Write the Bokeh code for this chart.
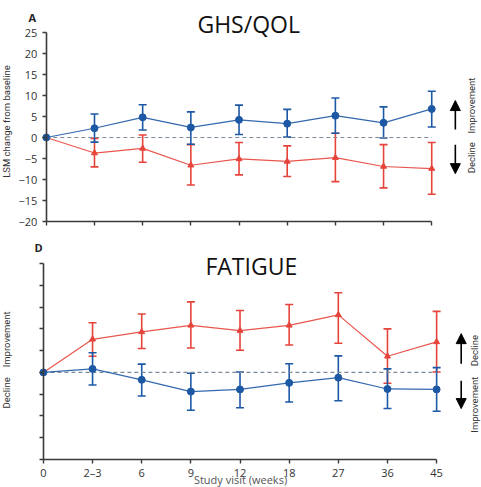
import math

from bokeh.embed import file_html
from bokeh.layouts import column
from bokeh.models import (Arrow, ColumnDataSource, FixedTicker, Label,
                          NormalHead, TeeHead, Whisker)
from bokeh.plotting import figure
from bokeh.resources import INLINE

# Study visits (weeks)
visits = ["0", "2–3", "6", "9", "12", "18", "27", "36", "45"]

# GHS/QOL: LSM change from baseline with 95% CI
ghs_blue = [0, 2.2, 4.8, 2.4, 4.2, 3.3, 5.2, 3.5, 6.8]
ghs_blue_hi = [0, 5.6, 7.8, 6.1, 7.7, 6.7, 9.4, 7.3, 11.0]
ghs_blue_lo = [0, -1.1, 1.8, -1.6, 0.7, 0.1, 1.0, -0.1, 2.5]
ghs_red = [0, -3.7, -2.6, -6.6, -5.1, -5.7, -4.8, -6.9, -7.4]
ghs_red_hi = [0, -0.2, 0.6, -1.7, -1.2, -2.0, 1.0, -1.7, -1.2]
ghs_red_lo = [0, -7.0, -5.9, -11.3, -8.9, -9.3, -10.5, -12.0, -13.5]

# Fatigue: LSM change from baseline with 95% CI
fat_red = [0, 7.6, 9.3, 10.8, 9.6, 10.8, 13.2, 3.7, 7.0]
fat_red_hi = [0, 11.4, 13.4, 16.2, 14.2, 15.6, 18.3, 10.0, 14.0]
fat_red_lo = [0, 3.7, 5.5, 5.6, 5.1, 6.3, 6.7, -2.5, 0.1]
fat_blue = [0, 0.8, -1.7, -4.4, -3.9, -2.4, -1.2, -3.8, -3.9]
fat_blue_hi = [0, 4.5, 1.9, -0.2, 0.1, 2.0, 3.8, 0.8, 1.1]
fat_blue_lo = [0, -2.9, -5.4, -8.7, -8.1, -6.8, -6.5, -8.3, -8.9]

y_ticks = [-20, -15, -10, -5, 0, 5, 10, 15, 20, 25]
y_tick_labels = ["−20", "−15", "−10", "−5", "0", "5", "10", "15", "20", "25"]

BLUE = "#1d58a5"
RED = "#e6443a"
AXIS = "#3a3a3a"
TEXT = "#333333"
NUM_FONT = "Open Sans"
SIDE_FONT = "Roboto"

xs = list(range(len(visits)))


def base_panel(height, x_range, y_range, show_x_labels):
    # The frame fills the whole canvas; axes sit at fixed data locations.
    p = figure(width=481, height=height, x_range=x_range, y_range=y_range,
               output_backend="svg", toolbar_location=None, title_location=None,
               min_border=0, min_border_left=0, min_border_right=0,
               min_border_top=0, min_border_bottom=0)
    p.grid.visible = False
    p.outline_line_color = None
    p.background_fill_color = "white"
    p.border_fill_color = "white"

    p.yaxis.fixed_location = 0
    p.yaxis.bounds = (y_ticks[0], y_ticks[-1])
    p.yaxis.ticker = FixedTicker(ticks=y_ticks)
    p.xaxis.fixed_location = y_ticks[0]
    p.xaxis.bounds = (xs[0], xs[-1])
    p.xaxis.ticker = FixedTicker(ticks=xs)
    if show_x_labels:
        p.xaxis.major_label_overrides = {i: v for i, v in zip(xs, visits)}
    else:
        p.xaxis.major_label_overrides = {i: "" for i in xs}

    for ax in (p.xaxis[0], p.yaxis[0]):
        ax.axis_line_color = AXIS
        ax.axis_line_width = 1.6
        ax.major_tick_line_color = AXIS
        ax.major_tick_line_width = 1.4
        ax.major_tick_in = 0
        ax.major_tick_out = 4
        ax.minor_tick_line_color = None
        ax.major_label_text_font = NUM_FONT
        ax.major_label_text_font_size = "11px"
        ax.major_label_text_color = TEXT
    p.yaxis.major_label_standoff = 5
    p.xaxis.major_label_standoff = 1

    # dashed reference line at no change
    p.line([xs[0], xs[-1]], [0, 0], line_color="#7d8a96", line_dash="4 3",
           line_width=1.2)
    return p


def add_series(p, y, lo, hi, color, marker, size):
    src = ColumnDataSource(dict(x=xs[1:], lo=lo[1:], hi=hi[1:]))
    p.add_layout(Whisker(source=src, base="x", lower="lo", upper="hi",
                         dimension="height", line_color=color, line_width=1.6,
                         lower_head=TeeHead(size=8, line_color=color, line_width=1.6),
                         upper_head=TeeHead(size=8, line_color=color, line_width=1.6)))
    p.line(xs, y, line_color=color, line_width=1.2, line_alpha=0.9)
    p.scatter(xs, y, marker=marker, size=size, fill_color=color, line_color=color)


def side_text(p, x, y, text, size="9.5px", font=SIDE_FONT, angle=math.pi / 2,
              bold=False, color=TEXT):
    p.add_layout(Label(x=x, y=y, text=text, angle=angle, text_align="center",
                       text_baseline="middle", text_font=font,
                       text_font_size=size, text_color=color,
                       text_font_style="bold" if bold else "normal"))


def arrow(p, x, y0, y1):
    p.add_layout(Arrow(x_start=x, y_start=y0, x_end=x, y_end=y1, line_width=1.6,
                       line_color="black",
                       end=NormalHead(size=10, fill_color="black", line_color="black")))


# ---- Panel A: global health status / QoL ----
pa = base_panel(240, (-0.951, 9.033), (-24.52, 32.62), show_x_labels=False)
pa.yaxis.major_label_overrides = {t: s for t, s in zip(y_ticks, y_tick_labels)}
add_series(pa, ghs_red, ghs_red_lo, ghs_red_hi, RED, "triangle", 6)
add_series(pa, ghs_blue, ghs_blue_lo, ghs_blue_hi, BLUE, "circle", 7)

side_text(pa, 4.2, 27.1, "GHS/QOL", size="23px", font="Open Sans", angle=0,
          color="#111111")
side_text(pa, -0.29, 28.6, "A", size="11px", font="Open Sans", angle=0, bold=True,
          color="#222222")
side_text(pa, -0.826, 3.8, "LSM change from baseline")
arrow(pa, 8.49, 1.9, 8.8)
arrow(pa, 8.49, -1.7, -8.6)
side_text(pa, 8.82, 7.6, "Improvement")
side_text(pa, 8.82, -4.8, "Decline")

# ---- Panel D: fatigue ----
pd = base_panel(247, (-0.873, 8.913), (-26.42, 30.28), show_x_labels=True)
pd.yaxis.major_label_overrides = {t: "" for t in y_ticks}
add_series(pd, fat_red, fat_red_lo, fat_red_hi, RED, "triangle", 6)
add_series(pd, fat_blue, fat_blue_lo, fat_blue_hi, BLUE, "circle", 7)

side_text(pd, 4.23, 24.5, "FATIGUE", size="23px", font="Open Sans", angle=0,
          color="#111111")
side_text(pd, -0.1, 28.7, "D", size="11px", font="Open Sans", angle=0, bold=True,
          color="#222222")
side_text(pd, 4.01, -24.59, "Study visit (weeks)", size="11px", font=NUM_FONT,
          angle=0, color="#555555")
side_text(pd, -0.75, 7.6, "Improvement")
side_text(pd, -0.75, -4.7, "Decline")
arrow(pd, 8.5, 2.0, 8.9)
arrow(pd, 8.5, -1.9, -8.3)
side_text(pd, 8.77, 5.0, "Decline")
side_text(pd, 8.77, -7.4, "Improvement")

layout = column(pa, pd, spacing=0)
open("out.html", "w").write(file_html(layout, INLINE))
